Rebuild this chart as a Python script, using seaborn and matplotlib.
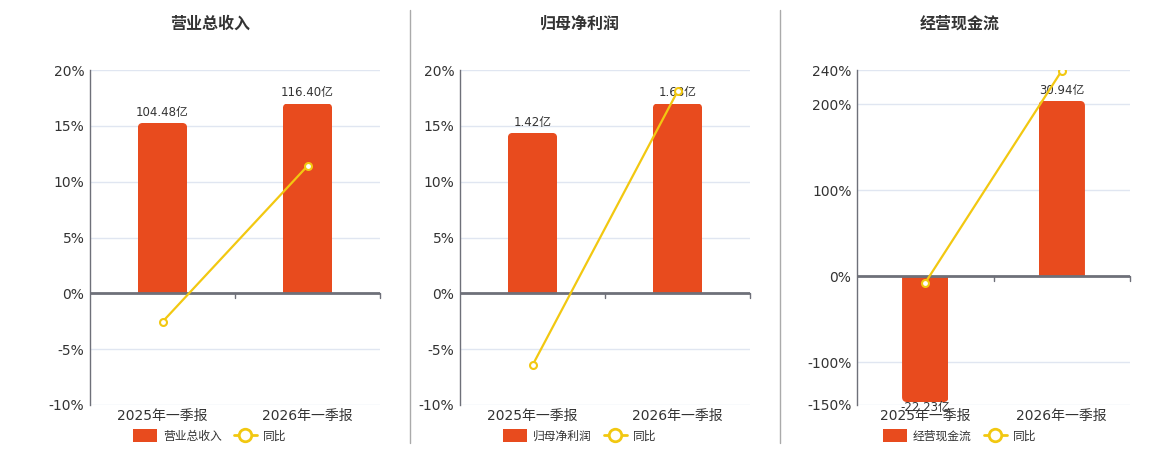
import matplotlib
matplotlib.use('Agg')
import matplotlib.pyplot as plt
import matplotlib.transforms as mtransforms
import seaborn as sns
from matplotlib.patches import FancyBboxPatch, Rectangle, Patch
from matplotlib.lines import Line2D
from matplotlib.ticker import FuncFormatter

# data
periods = ['2025年一季报', '2026年一季报']
titles = ['营业总收入', '归母净利润', '经营现金流']
revenue = [104.48, 116.40]
revenue_yoy = [-2.55, 11.41]
profit = [1.42, 1.68]
profit_yoy = [-6.44, 18.08]
cashflow = [-22.23, 30.94]
cashflow_yoy = [-7.7, 239.18]
pct_ticks = [
    [-10, -5, 0, 5, 10, 15, 20],
    [-10, -5, 0, 5, 10, 15, 20],
    [-150, -100, 0, 100, 200, 240],
]

BAR = '#E84B1E'
LINE = '#F2C811'
AXIS = '#6E7079'
GRID = '#E0E6F1'
TEXT = '#333333'

sns.set_style('white')
plt.rcParams['font.family'] = ['DejaVu Sans', 'Noto Sans CJK SC']

fig = plt.figure(figsize=(11.6, 4.5), dpi=100)
W, H = 1160, 450

# panel layout in pixels: (left, right) of plot area, centre of title/legend
panels = [(90, 380, 210), (460, 750, 580), (857, 1130, 960)]
top_px, bot_px = 70, 405

bars_all = [revenue, profit, cashflow]
yoy_all = [revenue_yoy, profit_yoy, cashflow_yoy]


def round_bars(ax, radius_px=5):
    # swap seaborn's square bars for ones with rounded outer corners
    pos = ax.get_position()
    ax_w = pos.width * W
    ax_h = pos.height * H
    x0, x1 = ax.get_xlim()
    y0, y1 = ax.get_ylim()
    xpp = (x1 - x0) / ax_w
    ypp = (y1 - y0) / ax_h
    for p in list(ax.patches):
        x, w = p.get_x(), p.get_width()
        h = p.get_height()
        ext = radius_px * 2 * ypp
        if h >= 0:
            body = (x, -ext, w, h + ext)
            clip = Rectangle((x, 0), w, h, transform=ax.transData)
        else:
            body = (x, h, w, -h + ext)
            clip = Rectangle((x, h), w, -h, transform=ax.transData)
        fb = FancyBboxPatch((body[0], body[1]), body[2], body[3],
                            boxstyle=f'round,pad=0,rounding_size={radius_px * xpp}',
                            mutation_aspect=ypp / xpp,
                            facecolor=p.get_facecolor(), edgecolor='none',
                            transform=ax.transData)
        p.remove()
        ax.add_patch(fb)
        fb.set_clip_path(clip)


for i, (left, right, centre) in enumerate(panels):
    bars = bars_all[i]
    yoy = yoy_all[i]
    ticks = pct_ticks[i]
    ymin, ymax = ticks[0], ticks[-1]

    rect = [left / W, 1 - bot_px / H, (right - left) / W, (bot_px - top_px) / H]
    ax = fig.add_axes(rect)
    ax_bar = ax.twinx()
    ax_line = ax.twinx()

    # bars on their own hidden scale, zero aligned with the % axis
    sns.barplot(x=periods, y=bars, ax=ax_bar, color=BAR, width=0.34,
                saturation=1, edgecolor='none')
    bar_top = max(bars) / 0.85
    ax_bar.set_ylim(bar_top * ymin / ymax, bar_top)

    sns.lineplot(x=periods, y=yoy, ax=ax_line, color=LINE, linewidth=1.6,
                 marker='o', markersize=5, markerfacecolor='white',
                 markeredgecolor=LINE, markeredgewidth=1.5)
    ax_line.set_ylim(ymin, ymax)
    ax.set_ylim(ymin, ymax)
    ax.set_xlim(-0.5, len(periods) - 0.5)

    # percent axis
    ax.set_yticks(ticks)
    ax.yaxis.set_major_formatter(FuncFormatter(lambda v, _: f'{v:.0f}%'))
    ax.set_xticks(range(len(periods)))
    ax.set_xticklabels(periods)
    ax.tick_params(axis='y', length=0, labelsize=10, labelcolor=TEXT, pad=4)
    ax.tick_params(axis='x', length=0, labelsize=10, labelcolor=TEXT, pad=3)
    ax.grid(axis='y', color=GRID, linewidth=1)
    for s in ['top', 'right', 'bottom']:
        ax.spines[s].set_visible(False)
    ax.spines['left'].set_color(AXIS)
    ax.spines['left'].set_linewidth(1)

    for a in (ax_bar, ax_line):
        a.set_yticks([])
        a.set_ylabel('')
        a.set_xlabel('')
        for s in a.spines.values():
            s.set_visible(False)
    ax_bar.set_zorder(1)
    ax_line.set_zorder(2)

    round_bars(ax_bar)

    # value labels on bars
    for j, v in enumerate(bars):
        ax_bar.annotate(f'{v:.2f}亿', xy=(j, v),
                        xytext=(0, 3 if v >= 0 else 1), textcoords='offset points',
                        ha='center', va='bottom' if v >= 0 else 'top',
                        fontsize=8.5, color=TEXT)

    # category axis line at zero with boundary ticks
    ax_line.axhline(0, color=AXIS, linewidth=2, zorder=1)
    zero_frac = (0 - ymin) / (ymax - ymin)
    tick_len = 5 / ((bot_px - top_px))
    trans = mtransforms.blended_transform_factory(ax_line.transData, ax_line.transAxes)
    for b in [k + 0.5 for k in range(len(periods))]:
        ax_line.add_line(Line2D([b, b], [zero_frac, zero_frac - tick_len],
                                transform=trans, color=AXIS, linewidth=1,
                                clip_on=False))

    fig.text(centre / W, 1 - 24 / H, titles[i], ha='center', va='center',
             fontsize=11.5, fontweight='bold', color=TEXT)

    handles = [
        Patch(facecolor=BAR, edgecolor='none', label=titles[i]),
        Line2D([0], [0], color=LINE, linewidth=2, marker='o', markersize=9,
               markerfacecolor='white', markeredgecolor=LINE,
               markeredgewidth=2, label='同比'),
    ]
    fig.legend(handles=handles, loc='center', ncol=2, frameon=False,
               bbox_to_anchor=(centre / W, 1 - 436 / H), fontsize=8.5,
               labelcolor=TEXT, handlelength=2.0, handleheight=1.3,
               handletextpad=0.5, columnspacing=1.0)

# separators between panels
for xs in (410, 780):
    fig.add_artist(Line2D([xs / W, xs / W], [1 - 10 / H, 1 - 443 / H],
                          color='#AAAAAA', linewidth=1))

fig.savefig('out.png', dpi=100)
